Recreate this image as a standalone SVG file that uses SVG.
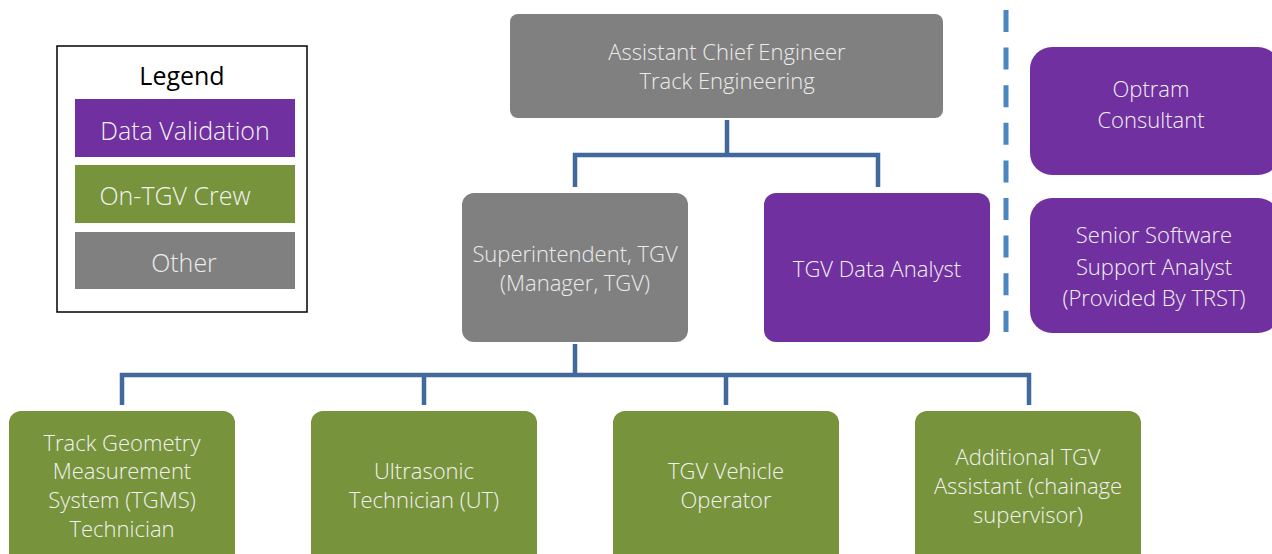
<svg xmlns="http://www.w3.org/2000/svg" width="1272" height="554" viewBox="0 0 1272 554">
<style>
.t{font-family:"Open Sans","Liberation Sans",sans-serif;font-weight:300;font-size:22px;text-anchor:middle;fill:#f2f2f2}
.lg{font-size:25px}
.tg{fill:#ececec}
.purple{fill:#7030a0}
.green{fill:#77933c}
.gray{fill:#808080}
.conn{fill:none;stroke:#41699c;stroke-width:4.5}
</style>
<rect width="1272" height="554" fill="#ffffff"/>
<g id="legend">
<rect x="57" y="46" width="250" height="266" fill="#ffffff" stroke="#000000" stroke-width="1.5"/>
<text x="182" y="85" font-family="Open Sans, Liberation Sans, sans-serif" font-size="25" text-anchor="middle" fill="#000000">Legend</text>
<rect x="75" y="99" width="220" height="58" class="purple"/>
<text x="185" y="140" class="t lg">Data Validation</text>
<rect x="75" y="165" width="220" height="58" class="green"/>
<text x="175" y="205" class="t lg">On-TGV Crew</text>
<rect x="75" y="232" width="220" height="57" class="gray"/>
<text x="184" y="272" class="t tg lg">Other</text>
</g>
<g id="connectors">
<path class="conn" d="M727 120 V155 M575 187 V155 H878 V187"/>
<path class="conn" d="M575 344 V375 M122 405 V375 H1029 V405 M424 375 V405 M726 375 V405"/>
<line x1="1006" y1="10" x2="1006" y2="332" stroke="#4a86c0" stroke-width="5" stroke-dasharray="22 15.6"/>
</g>
<g id="ace">
<rect x="510" y="14" width="433" height="104" rx="8" class="gray"/>
<text x="727" y="60" class="t tg">Assistant Chief Engineer</text>
<text x="727" y="89" class="t tg">Track Engineering</text>
</g>
<g id="superintendent">
<rect x="462" y="193" width="226" height="149" rx="12" class="gray"/>
<text x="575" y="262" class="t tg">Superintendent, TGV</text>
<text x="575" y="291" class="t tg">(Manager, TGV)</text>
</g>
<g id="analyst">
<rect x="764" y="193" width="226" height="149" rx="12" class="purple"/>
<text x="877" y="277" class="t">TGV Data Analyst</text>
</g>
<g id="optram">
<rect x="1030" y="47" width="250" height="128" rx="22" class="purple"/>
<text x="1151" y="97" class="t">Optram</text>
<text x="1151" y="128" class="t">Consultant</text>
</g>
<g id="software">
<rect x="1030" y="198" width="250" height="135" rx="22" class="purple"/>
<text x="1154" y="243" class="t">Senior Software</text>
<text x="1154" y="275" class="t">Support Analyst</text>
<text x="1154" y="306" class="t">(Provided By TRST)</text>
</g>
<g id="tgms">
<rect x="9" y="411" width="226" height="160" rx="12" class="green"/>
<text x="122" y="451" class="t">Track Geometry</text>
<text x="122" y="479" class="t">Measurement</text>
<text x="122" y="508" class="t">System (TGMS)</text>
<text x="122" y="537" class="t">Technician</text>
</g>
<g id="ut">
<rect x="311" y="411" width="226" height="160" rx="12" class="green"/>
<text x="424" y="479" class="t">Ultrasonic</text>
<text x="424" y="508" class="t">Technician (UT)</text>
</g>
<g id="operator">
<rect x="613" y="411" width="226" height="160" rx="12" class="green"/>
<text x="726" y="479" class="t">TGV Vehicle</text>
<text x="726" y="508" class="t">Operator</text>
</g>
<g id="assistant">
<rect x="915" y="411" width="226" height="160" rx="12" class="green"/>
<text x="1028" y="465" class="t">Additional TGV</text>
<text x="1028" y="494" class="t">Assistant (chainage</text>
<text x="1028" y="523" class="t">supervisor)</text>
</g>
</svg>
